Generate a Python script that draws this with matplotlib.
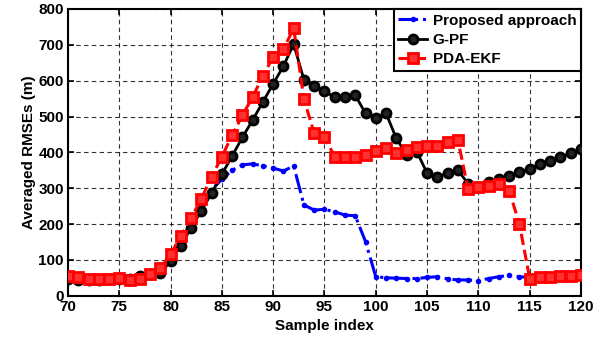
import matplotlib
matplotlib.use("Agg")
import matplotlib.pyplot as plt

plt.rcParams['font.family'] = ['Liberation Sans', 'DejaVu Sans']
plt.rcParams['font.weight'] = 'bold'

sample_index = list(range(70, 121))

proposed = [50, 47, 46, 46, 47, 48, 46, 50, 58, 70,
            105, 150, 205, 255, 295, 325, 350, 365, 368, 362,
            356, 348, 362, 253, 239, 241, 234, 225, 223, 151,
            53, 50, 49, 48, 48, 51, 53, 47, 44, 44,
            42, 48, 53, 57, 53, 51, 52, 54, 55, 57, 60]

gpf = [47, 45, 45, 45, 47, 47, 48, 56, 60, 63,
       96, 140, 189, 237, 286, 339, 390, 442, 490, 541,
       591, 641, 702, 602, 585, 570, 554, 554, 559, 509,
       495, 509, 439, 393, 402, 342, 332, 342, 351, 312,
       304, 318, 325, 334, 344, 354, 367, 377, 387, 397, 409]

pda_ekf = [56, 53, 48, 47, 48, 49, 43, 48, 60, 76,
           116, 166, 216, 271, 332, 388, 448, 503, 555, 613,
           667, 688, 746, 548, 453, 442, 388, 388, 387, 393,
           404, 411, 399, 407, 416, 418, 418, 428, 435, 297,
           302, 307, 311, 293, 200, 48, 51, 53, 56, 56, 57]

labels = ['Proposed approach', 'G-PF', 'PDA-EKF']

fig = plt.figure(figsize=(6.06, 3.38), dpi=100)
ax = fig.add_axes([0.1122, 0.1251, 0.8465, 0.8483])

ax.plot(sample_index, proposed, color='#0000ff', linestyle='-.', linewidth=2.2,
        marker='.', markersize=6, label=labels[0], zorder=3)
ax.plot(sample_index, gpf, color='black', linestyle='-', linewidth=2.0,
        marker='o', markersize=6.5, markerfacecolor='#222222', markeredgewidth=2.0,
        label=labels[1], zorder=4)
ax.plot(sample_index, pda_ekf, color='#ff0000', linestyle='--', linewidth=2.2,
        marker='s', markersize=6.5, markerfacecolor='#ff3030', markeredgewidth=2.0,
        label=labels[2], zorder=5)

ax.set_xlim(70, 120)
ax.set_ylim(0, 800)
ax.set_xticks(range(70, 121, 5))
ax.set_yticks(range(0, 801, 100))
ax.grid(True, color='black', linestyle=(0, (4, 3)), linewidth=0.8, alpha=0.8)
ax.set_axisbelow(True)
ax.tick_params(direction='in', top=True, right=True, length=4, width=1.2,
               labelsize=11, pad=3)
for lab in ax.get_xticklabels() + ax.get_yticklabels():
    lab.set_fontweight('bold')
for sp in ax.spines.values():
    sp.set_linewidth(1.5)

ax.set_xlabel('Sample index', fontsize=11, fontweight='bold', labelpad=4)
ax.set_ylabel('Averaged RMSEs (m)', fontsize=11, fontweight='bold', labelpad=2)

leg = ax.legend(loc='upper right', fontsize=11, borderaxespad=0, fancybox=False,
                edgecolor='black', framealpha=1, handlelength=1.9,
                handletextpad=0.35, labelspacing=0.35, borderpad=0.3)
leg.get_frame().set_linewidth(1.5)
for t in leg.get_texts():
    t.set_fontweight('bold')

fig.savefig('out.png', dpi=100)
